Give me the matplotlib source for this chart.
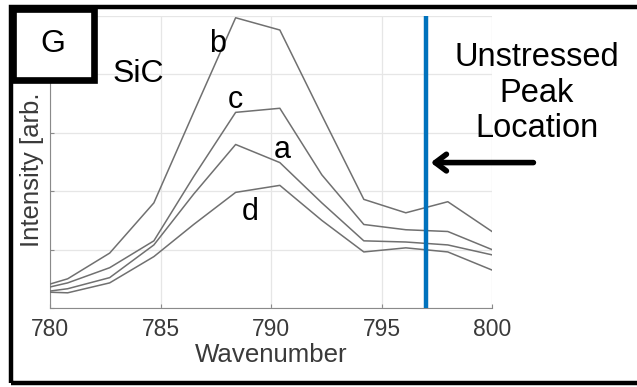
import numpy as np
import matplotlib
matplotlib.use("Agg")
import matplotlib.pyplot as plt
from matplotlib.patches import Rectangle

plt.rcParams["font.family"] = ["Liberation Sans", "DejaVu Sans"]

# Raman spectra around the SiC peak
wavenumber = [780, 780.8, 782.7, 784.7, 786.5, 788.4, 790.4, 792.3, 794.2, 796.1, 798.0, 800.0]
spec_b = [0.41, 0.50, 0.94, 1.80, 3.35, 4.97, 4.76, 3.30, 1.86, 1.63, 1.82, 1.31]
spec_c = [0.36, 0.43, 0.69, 1.15, 2.25, 3.35, 3.42, 2.28, 1.43, 1.34, 1.31, 1.00]
spec_a = [0.29, 0.33, 0.52, 1.08, 1.95, 2.80, 2.49, 1.80, 1.15, 1.13, 1.08, 0.91]
spec_d = [0.27, 0.26, 0.43, 0.88, 1.43, 1.98, 2.10, 1.50, 0.96, 1.03, 0.96, 0.65]
unstressed_peak = 797.0
xticks = [780, 785, 790, 795, 800]

W, H = 637, 387
fig = plt.figure(figsize=(W / 100, H / 100), dpi=100)


def fx(px):
    return px / W


def fy(py):
    return 1 - py / H


ax = fig.add_axes([fx(50), fy(308), fx(492) - fx(50), fy(16) - fy(308)])

for s in (spec_b, spec_c, spec_a, spec_d):
    ax.plot(wavenumber, s, color="#707070", lw=1.1, zorder=3)

ax.axvline(unstressed_peak, color="#0072BD", lw=3.2, zorder=4)

ax.set_xlim(780, 800)
ax.set_ylim(0, 5)
ax.set_xticks(xticks)
ax.set_yticks(range(6))
ax.set_yticklabels([])
ax.grid(True, color="#e6e6e6", lw=0.9)
ax.set_axisbelow(True)
for side in ("top", "right"):
    ax.spines[side].set_visible(False)
for side in ("left", "bottom"):
    ax.spines[side].set_color("#8a8a8a")
ax.tick_params(direction="in", length=3, colors="#8a8a8a", labelcolor="#3a3a3a",
               labelsize=16.5, pad=7)
ax.set_xlabel("Wavenumber", fontsize=18.6, color="#3a3a3a", labelpad=2)

# curve labels
ax.text(787.6, 4.52, "b", fontsize=22, ha="center", va="center")
ax.text(788.4, 3.57, "c", fontsize=22, ha="center", va="center")
ax.text(790.5, 2.71, "a", fontsize=22, ha="center", va="center")
ax.text(789.05, 1.65, "d", fontsize=22, ha="center", va="center")
ax.text(784.0, 4.0, "SiC", fontsize=23, ha="center", va="center")

# arrow to the unstressed peak
ax.annotate("", xy=(797.1, 2.49), xytext=(802.0, 2.49), annotation_clip=False,
            arrowprops=dict(arrowstyle="->, head_length=0.8, head_width=0.6",
                            lw=4, color="black"))
fig.text(fx(537), fy(93), "Unstressed\nPeak\nLocation", fontsize=23.5,
         ha="center", va="center", linespacing=1.2)

# y label (the rest of it is hidden under the panel box in the original)
fig.text(fx(32), fy(247), "Intensity [arb.", fontsize=18.5, color="#3a3a3a",
         rotation=90, ha="center", va="bottom")

# outer frame
fig.patches.append(Rectangle((fx(10.5), fy(382.5)), fx(660) - fx(10.5), fy(6.5) - fy(382.5),
                             transform=fig.transFigure, fill=False, ec="black", lw=3.2,
                             zorder=5))
# panel letter box
fig.patches.append(Rectangle((fx(13), fy(80)), fx(94) - fx(13), fy(9) - fy(80),
                             transform=fig.transFigure, fc="white", ec="black", lw=4.8,
                             zorder=6))
fig.text(fx(53), fy(44), "G", fontsize=23, ha="center", va="center", zorder=7)

fig.savefig("out.png", dpi=100)
